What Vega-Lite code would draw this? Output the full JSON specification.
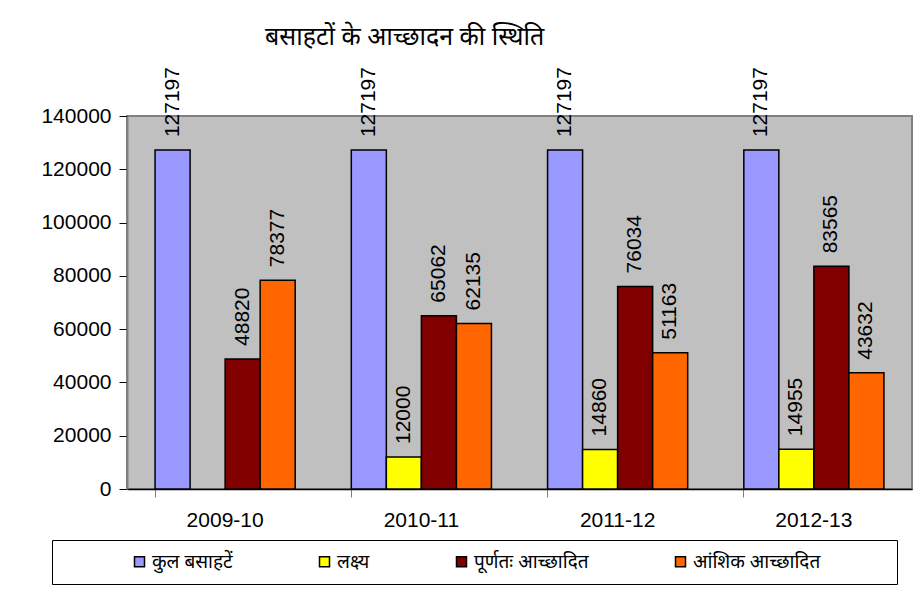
{
  "$schema": "https://vega.github.io/schema/vega-lite/v6.json",
  "width": 785,
  "height": 373,
  "autosize": {"type": "none"},
  "padding": {"left": 127, "top": 116, "right": 12, "bottom": 109},
  "background": "white",
  "view": {"fill": "#C0C0C0", "stroke": "#808080", "strokeWidth": 2},
  "title": {
    "text": "बसाहटों के आच्छादन की स्थिति",
    "anchor": "start",
    "frame": "group",
    "dx": 138,
    "offset": 17,
    "fontSize": 25,
    "font": "Noto Sans",
    "fontWeight": "normal",
    "color": "black"
  },
  "data": {
    "values": [
      {"year": "2009-10", "series": "कुल बसाहटें", "value": 127197},
      {"year": "2009-10", "series": "पूर्णतः आच्छादित", "value": 48820},
      {"year": "2009-10", "series": "आंशिक आच्छादित", "value": 78377},
      {"year": "2010-11", "series": "कुल बसाहटें", "value": 127197},
      {"year": "2010-11", "series": "लक्ष्य", "value": 12000},
      {"year": "2010-11", "series": "पूर्णतः आच्छादित", "value": 65062},
      {"year": "2010-11", "series": "आंशिक आच्छादित", "value": 62135},
      {"year": "2011-12", "series": "कुल बसाहटें", "value": 127197},
      {"year": "2011-12", "series": "लक्ष्य", "value": 14860},
      {"year": "2011-12", "series": "पूर्णतः आच्छादित", "value": 76034},
      {"year": "2011-12", "series": "आंशिक आच्छादित", "value": 51163},
      {"year": "2012-13", "series": "कुल बसाहटें", "value": 127197},
      {"year": "2012-13", "series": "लक्ष्य", "value": 14955},
      {"year": "2012-13", "series": "पूर्णतः आच्छादित", "value": 83565},
      {"year": "2012-13", "series": "आंशिक आच्छादित", "value": 43632}
    ]
  },
  "encoding": {
    "x": {
      "field": "year",
      "type": "nominal",
      "title": null,
      "scale": {"paddingInner": 0.286, "paddingOuter": 0.143},
      "axis": {
        "labelAngle": 0,
        "labelFont": "Liberation Sans",
        "labelFontSize": 21,
        "labelColor": "black",
        "labelPadding": 12,
        "bandPosition": 0,
        "tickColor": "#808080",
        "tickSize": 8,
        "domainColor": "black",
        "domainWidth": 1.5
      }
    },
    "xOffset": {
      "field": "series",
      "type": "nominal",
      "sort": ["कुल बसाहटें", "लक्ष्य", "पूर्णतः आच्छादित", "आंशिक आच्छादित"],
      "scale": {"paddingInner": 0, "paddingOuter": 0}
    },
    "y": {
      "field": "value",
      "type": "quantitative",
      "title": null,
      "scale": {"domain": [0, 140000]},
      "axis": {
        "values": [0, 20000, 40000, 60000, 80000, 100000, 120000, 140000],
        "format": "d",
        "grid": false,
        "labelFont": "Liberation Sans",
        "labelFontSize": 21,
        "labelColor": "black",
        "labelPadding": 8,
        "tickColor": "black",
        "tickSize": 8,
        "domainColor": "#808080",
        "domainWidth": 2
      }
    }
  },
  "layer": [
    {
      "mark": {"type": "bar", "stroke": "black", "strokeWidth": 1.5},
      "encoding": {
        "color": {
          "field": "series",
          "type": "nominal",
          "scale": {
            "domain": ["कुल बसाहटें", "लक्ष्य", "पूर्णतः आच्छादित", "आंशिक आच्छादित"],
            "range": ["#9999FF", "#FFFF00", "#800000", "#FF6600"]
          },
          "legend": {
            "orient": "none",
            "legendX": -75,
            "legendY": 424,
            "direction": "horizontal",
            "columns": 4,
            "title": "\u00a0",
            "titleOrient": "left",
            "titlePadding": 66,
            "titleFontSize": 10,
            "labelExpr": "datum.value == 'आंशिक आच्छादित' ? datum.label + '\u00a0\u00a0\u00a0\u00a0\u00a0\u00a0\u00a0\u00a0\u00a0\u00a0\u00a0\u00a0\u00a0\u200b' : datum.label",
            "labelLimit": 500,
            "columnPadding": 82,
            "padding": 12,
            "strokeColor": "black",
            "fillColor": null,
            "symbolType": "square",
            "symbolSize": 100,
            "symbolStrokeColor": "black",
            "symbolStrokeWidth": 1.5,
            "labelFont": "Noto Sans",
            "labelFontSize": 19,
            "labelColor": "black",
            "labelOffset": 3
          }
        }
      }
    },
    {
      "mark": {
        "type": "text",
        "angle": -90,
        "align": "left",
        "baseline": "middle",
        "dx": 13,
        "font": "Liberation Sans",
        "fontSize": 21,
        "color": "black"
      },
      "encoding": {
        "text": {"field": "value", "type": "quantitative", "format": "d"}
      }
    }
  ]
}
